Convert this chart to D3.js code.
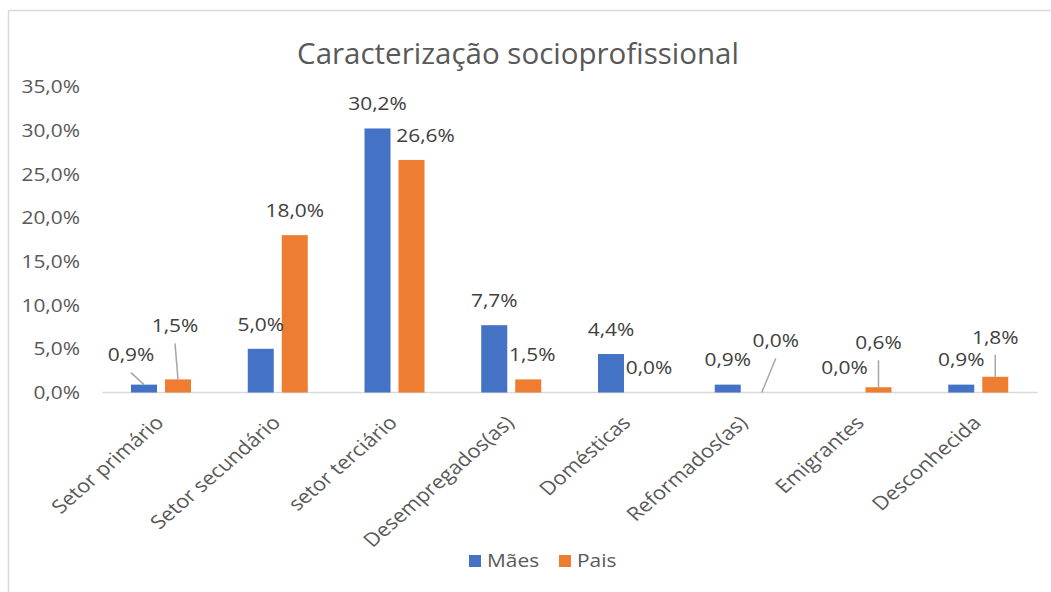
<!DOCTYPE html>
<html>
<head>
<meta charset="utf-8">
<script src="https://cdn.jsdelivr.net/npm/d3@7"></script>
<style>
  html, body { margin: 0; padding: 0; background: #ffffff; }
  svg { display: block; font-family: "Open Sans", sans-serif; }
</style>
</head>
<body>
<svg id="chart" width="1051" height="592"></svg>
<script>
// ---- data ----
const categories = ["Setor primário", "Setor secundário", "setor terciário", "Desempregados(as)",
                    "Domésticas", "Reformados(as)", "Emigrantes", "Desconhecida"];
const seriesNames = ["Mães", "Pais"];
const maes = [0.9, 5.0, 30.2, 7.7, 4.4, 0.9, 0.0, 0.9];
const pais = [1.5, 18.0, 26.6, 1.5, 0.0, 0.0, 0.6, 1.8];
const yTicks = [0, 5, 10, 15, 20, 25, 30, 35];
const title = "Caracterização socioprofissional";

// ---- layout (label nudges in px, as moved in the original) ----
const maesLabelShift = [[-13, -5], [0, 0], [0, 0], [0, 0], [0, 0], [0, 0], [0, 0], [0, 0]];
const paisLabelShift = [[-3, -29], [0, 0], [14, 0], [4, 0], [4, 0], [14, -27], [0, -20], [0, -15]];
const colors = { "Mães": "#4472C4", "Pais": "#ED7D31" };

const svg = d3.select("#chart");
const fmt = v => d3.format(".1f")(v).replace(".", ",") + "%";

// chart border
svg.append("rect").attr("x", 8.5).attr("y", 10.5).attr("width", 1200).attr("height", 800)
  .attr("fill", "#fff").attr("stroke", "#d9d9d9").attr("stroke-width", 1.5);

// title
svg.append("text").attr("x", 518).attr("y", 64).attr("text-anchor", "middle")
  .attr("font-size", 29.5).attr("fill", "#595959").text(title);

// scales
const x0 = d3.scaleBand().domain(categories).range([102.6, 1036.6]).paddingInner(0).paddingOuter(0);
const x1 = d3.scaleBand().domain(seriesNames).range([28.4, 88.4]).paddingInner(8 / 34);
const y = d3.scaleLinear().domain([0, 35]).range([392.5, 86.5]);

// y axis labels
const yAxis = svg.append("g").attr("transform", "translate(80,0)")
  .call(d3.axisLeft(y).tickValues(yTicks).tickSize(0).tickPadding(0).tickFormat(fmt));
yAxis.select(".domain").remove();
yAxis.selectAll("text").attr("x", 0).attr("font-size", 19).attr("fill", "#595959")
  .attr("font-family", "Open Sans").attr("transform", "scale(1.1,1)");

// category axis line
svg.append("line").attr("x1", x0.range()[0]).attr("x2", x0.range()[1] + 1)
  .attr("y1", y(0)).attr("y2", y(0)).attr("stroke", "#d9d9d9").attr("stroke-width", 1.5);

// bars
const rows = categories.map((c, i) => ({ cat: c, i, vals: [
  { s: "Mães", v: maes[i], shift: maesLabelShift[i] },
  { s: "Pais", v: pais[i], shift: paisLabelShift[i] }
]}));

const groups = svg.append("g").selectAll("g").data(rows).join("g")
  .attr("transform", d => `translate(${x0(d.cat)},0)`);

groups.selectAll("rect").data(d => d.vals).join("rect")
  .attr("x", d => x1(d.s)).attr("width", x1.bandwidth())
  .attr("y", d => y(d.v)).attr("height", d => y(0) - y(d.v))
  .attr("fill", d => colors[d.s]);

// leader lines
groups.selectAll("line.leader").data(d => d.vals.filter(v => v.shift[1] < 0)).join("line")
  .attr("class", "leader")
  .attr("x1", d => x1(d.s) + x1.bandwidth() / 2 + d.shift[0])
  .attr("y1", d => y(d.v) - 25 + d.shift[1] + 18)
  .attr("x2", d => x1(d.s) + x1.bandwidth() / 2)
  .attr("y2", d => y(d.v))
  .attr("stroke", "#a6a6a6").attr("stroke-width", 1.5);

// data labels
groups.selectAll("text.lbl").data(d => d.vals).join("text")
  .attr("class", "lbl")
  .attr("transform", d => `translate(${x1(d.s) + x1.bandwidth() / 2 + d.shift[0]},${y(d.v) - 25 + d.shift[1] + 6.8}) scale(1.1,1)`)
  .attr("text-anchor", "middle").attr("font-size", 19).attr("fill", "#404040")
  .text(d => fmt(d.v));

// category labels
const xAxis = svg.append("g").call(d3.axisBottom(x0).tickSize(0).tickPadding(0));
xAxis.select(".domain").remove();
xAxis.selectAll("text")
  .attr("x", 0).attr("y", 0).attr("dy", 0)
  .attr("text-anchor", "end").attr("font-size", 19).attr("fill", "#595959")
  .attr("font-family", "Open Sans")
  .attr("transform", "translate(4,424) scale(1.15,1) rotate(-45)");

// legend
const legendX = { "Mães": 469, "Pais": 559 };
const legend = svg.append("g").selectAll("g").data(seriesNames).join("g")
  .attr("transform", d => `translate(${legendX[d]},0)`);
legend.append("rect").attr("x", 0).attr("y", 555).attr("width", 12).attr("height", 12)
  .attr("fill", d => colors[d]);
legend.append("text").attr("transform", "translate(18,567) scale(1.1,1)")
  .attr("font-size", 19).attr("fill", "#595959").text(d => d);
</script>
</body>
</html>
